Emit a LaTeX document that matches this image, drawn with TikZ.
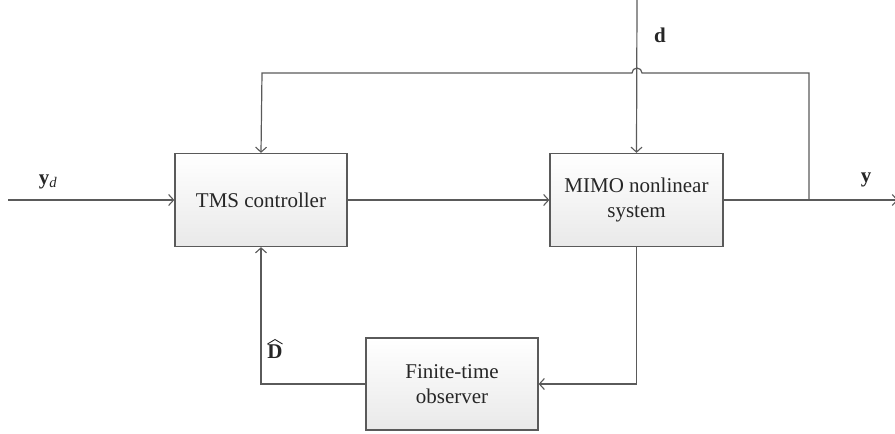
\documentclass[tikz,border=0pt]{standalone}
\usepackage{fontspec}
\setmainfont{Liberation Serif}
\usetikzlibrary{arrows.meta,shadings,calc}
\definecolor{linec}{HTML}{5A5A5A}
\definecolor{boxbot}{HTML}{E9E9E9}
\begin{document}
\begin{tikzpicture}[x=1pt,y=-1pt,
  blk/.style={draw=linec,line width=1.3pt,top color=white,bottom color=boxbot,
    minimum width=172pt,minimum height=93pt,align=center,inner sep=0pt,
    font=\fontsize{21}{25}\selectfont,text=black!85},
  conn/.style={draw=linec,line width=1.2pt},
  arr/.style={conn,-{Straight Barb[length=5pt,width=11pt,line width=1.1pt]}},
  lbl/.style={font=\fontsize{21}{25}\selectfont,text=black!85,inner sep=0pt}]
\useasboundingbox (0,0) rectangle (895,434);
\node[blk] (tms) at (261,200) {TMS controller};
\node[blk,minimum width=173pt] (mimo) at (636.5,200) {MIMO nonlinear\\system};
\node[blk,minimum height=92pt] (obs) at (452,384) {Finite-time\\observer};
\coordinate (in) at (8,200);
\coordinate (out) at (898,200);
\coordinate (dtop) at (637,0);
\coordinate (fb) at (809,200);
\coordinate (fbtop) at (809,73);
\coordinate (jr) at (642,73);
\coordinate (tl) at (262,73);
\draw[arr] (in) -- (tms.west);
\draw[arr] (tms.east) -- (mimo.west);
\draw[arr] (mimo.east) -- (out);
\draw[arr] (dtop) -- (mimo.north);
\draw[arr] (fb) -- (fbtop) -- (jr) arc[start angle=0,end angle=180,radius=5pt] -- (tl) -- (tms.north);
\draw[arr] (mimo.south) |- (obs.east);
\draw[arr] (obs.west) -| (tms.south);
\node[lbl] (lyd) at (48,182) {\textbf{y}\textsubscript{\textit{d}}};
\node[lbl] (ly) at (866,180) {\textbf{y}};
\node[lbl] (ld) at (660,35) {\textbf{d}};
\node[lbl] (lD) at (275,352) {\textbf{D}};
\draw[black!85,line width=0.9pt,line join=miter]
  ($(lD.center)+(-7.5,-8)$) -- ($(lD.center)+(0,-12.5)$) -- ($(lD.center)+(7.5,-8)$);
\end{tikzpicture}
\end{document}
